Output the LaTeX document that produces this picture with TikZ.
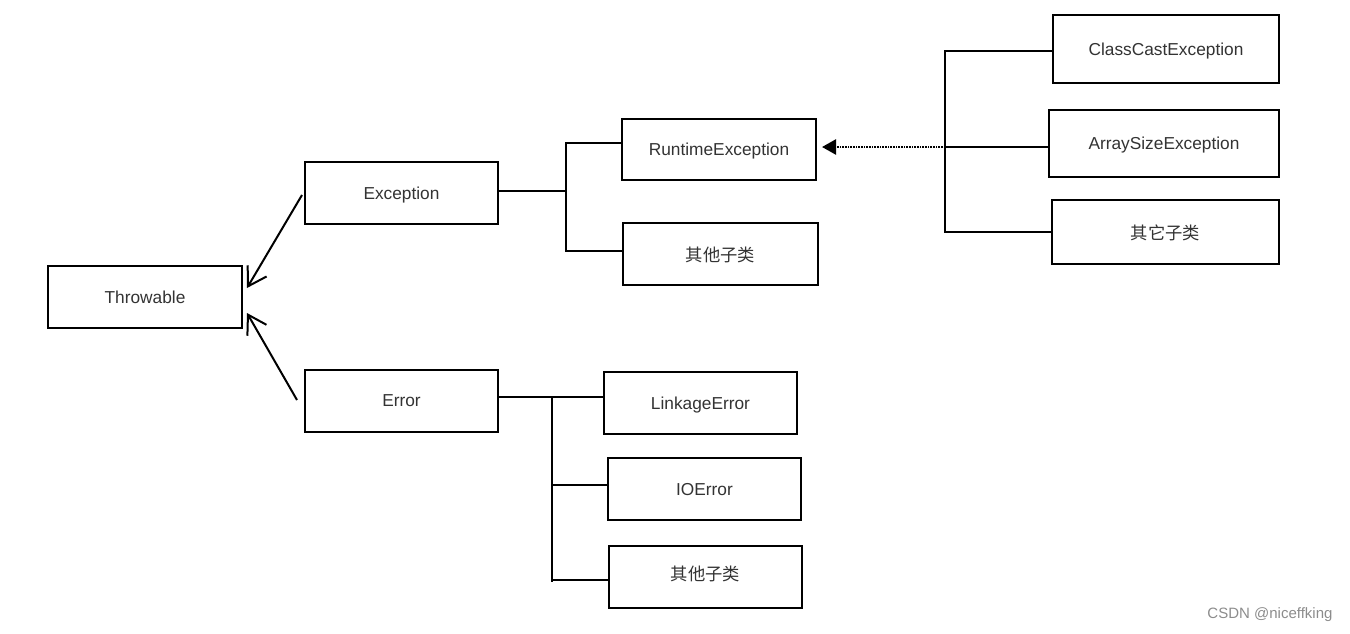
\documentclass[tikz,border=0pt]{standalone}
\usepackage{fontspec}
\setmainfont{Liberation Sans}
\newfontfamily\cjk{Noto Sans CJK SC}
\usetikzlibrary{arrows.meta}
\begin{document}
\begin{tikzpicture}[x=1pt,y=-1pt,
  box/.style={draw=black,line width=2pt,fill=white,inner sep=0pt,font=\fontsize{17.3}{19}\selectfont,text=black!80,text depth=0pt},
  wire/.style={line width=2pt,line cap=rect},
  inh/.style={line width=2pt,-{Straight Barb[length=18pt,width=22pt,line width=2pt]}},
  dep/.style={line width=2.5pt,dash pattern=on 1pt off 0.6pt,-{Triangle[length=14pt,width=15pt]}}]
\useasboundingbox (0,0) rectangle (1350,634);
\newcommand\bx[6]{\node[box,minimum width=#4-#2,minimum height=#5-#3,anchor=north west] (#1) at (#2,#3) {#6};}
\bx{thr}{47}{265}{241}{327}{Throwable}
\bx{exc}{304}{161}{497}{223}{Exception}
\bx{err}{304}{369}{497}{431}{Error}
\bx{rte}{621}{118}{815}{179}{RuntimeException}
\bx{eo}{622}{222}{817}{284}{\cjk 其他子类}
\bx{cce}{1052}{14}{1278}{82}{ClassCastException}
\bx{ase}{1048}{109}{1278}{176}{ArraySizeException}
\bx{ro}{1051}{199}{1278}{263}{\cjk 其它子类}
\bx{lnk}{603}{371}{796}{433}{LinkageError}
\bx{ioe}{607}{457}{800}{519}{IOError}
\bx{ero}{608}{545}{801}{607}{\cjk\raisebox{8pt}{其他子类}}
% inheritance arrows
\coordinate (ea) at (302,195);
\coordinate (ra) at (297,400);
\coordinate (ta1) at (247,288);
\coordinate (ta2) at (247,313);
\draw[inh] (ea) -- (ta1);
\draw[inh] (ra) -- (ta2);
% Exception tree
\coordinate (ej) at (566,191);
\draw[wire] (exc.east |- ej) -- (ej);
\draw[wire] (566,143) -- (566,251);
\draw[wire] (566,143) -- (rte.west |- 0,143);
\draw[wire] (566,251) -- (eo.west |- 0,251);
% Runtime tree
\coordinate (rj) at (945,147);
\coordinate (rt) at (822,147);
\draw[wire] (945,51) -- (945,232);
\draw[wire] (945,51) -- (cce.west |- 0,51);
\draw[wire] (rj) -- (ase.west |- rj);
\draw[wire] (945,232) -- (ro.west |- 0,232);
\draw[dep] (rj) -- (rt);
% Error tree
\coordinate (erj) at (552,397);
\draw[wire] (err.east |- erj) -- (lnk.west |- erj);
\draw[wire] (erj) -- (552,581);
\draw[wire] (552,485) -- (ioe.west |- 0,485);
\draw[wire] (552,580) -- (ero.west |- 0,580);
\node[anchor=east,text=black!45,font=\fontsize{15}{17}\selectfont] (wm) at (1336,615) {CSDN @niceffking};
\end{tikzpicture}
\end{document}
